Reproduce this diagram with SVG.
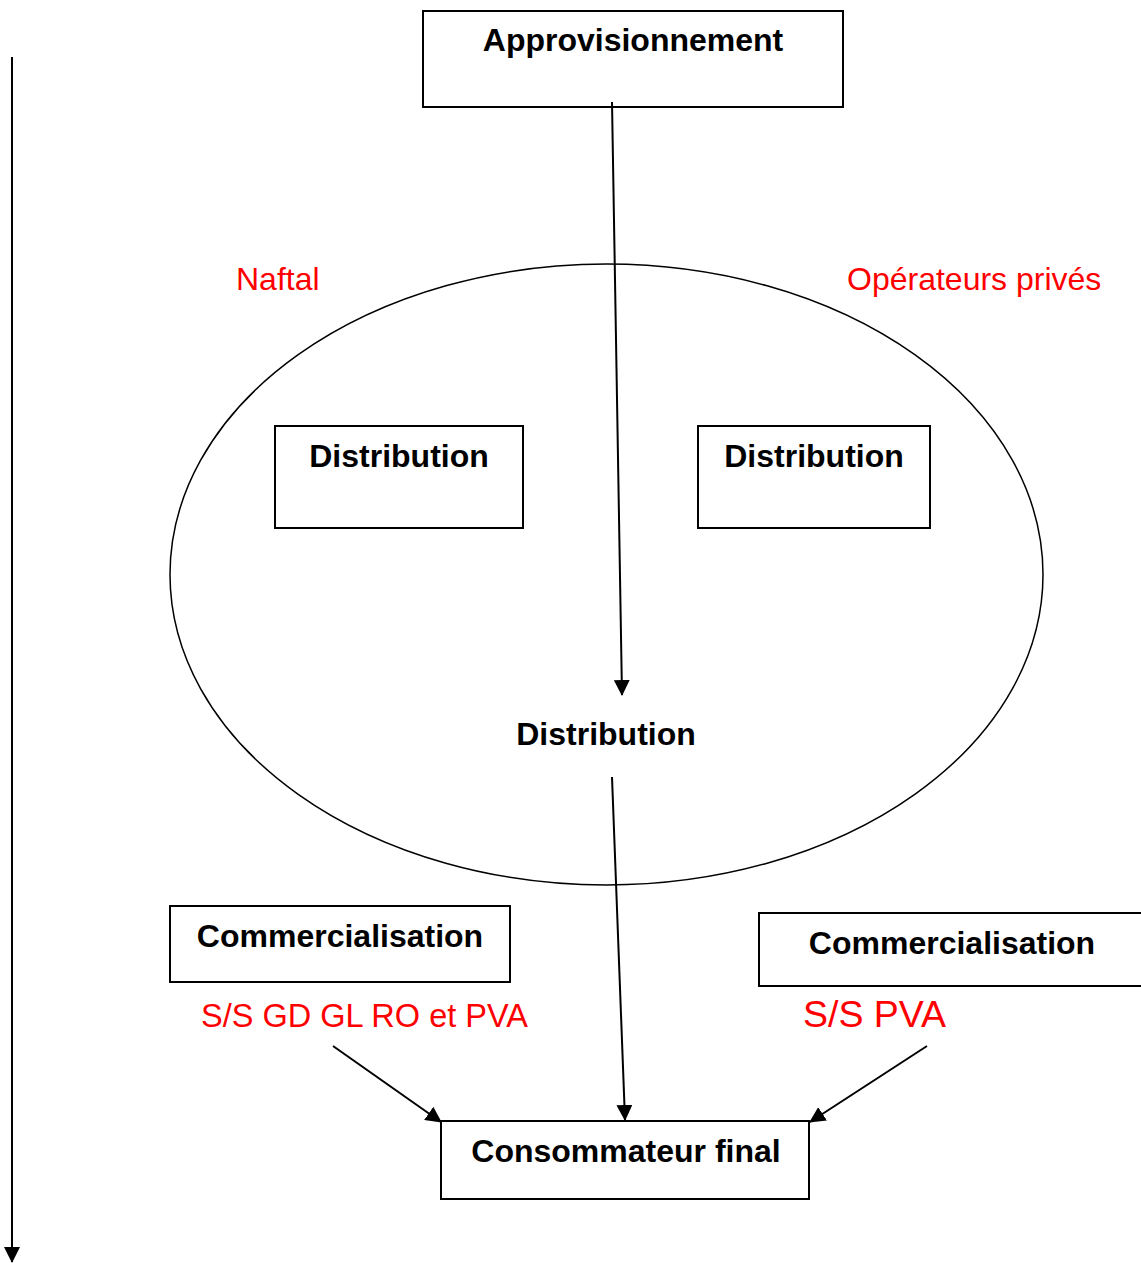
<svg xmlns="http://www.w3.org/2000/svg" width="1141" height="1263" viewBox="0 0 1141 1263">
<defs>
<style>
.box{fill:#fff;stroke:#000;stroke-width:2}
.b{font-family:"Liberation Sans",Arial,sans-serif;font-weight:bold;font-size:32px;fill:#000}
.r{font-family:"Liberation Sans",Arial,sans-serif;font-size:32px;fill:#f00}
.ln{stroke:#000;stroke-width:2;fill:none}
</style>
<marker id="ah" markerWidth="16" markerHeight="16" viewBox="0 0 16 16" refX="15" refY="8" orient="auto" markerUnits="userSpaceOnUse">
<path d="M0,0 L16,8 L0,16 z" fill="#000"/>
</marker>
</defs>
<rect width="1141" height="1263" fill="#fff"/>
<g id="ellipse"><ellipse cx="606.5" cy="574.5" rx="436.5" ry="310.5" fill="none" stroke="#000" stroke-width="1.5"/></g>
<g id="approvisionnement"><rect class="box" x="423" y="11" width="420" height="96"/><text class="b" x="633" y="51" text-anchor="middle">Approvisionnement</text></g>
<g id="naftal"><text class="r" x="236" y="290">Naftal</text></g>
<g id="operateurs"><text class="r" x="847" y="290">Opérateurs privés</text></g>
<g id="dist-left"><rect class="box" x="275" y="426" width="248" height="102"/><text class="b" x="399" y="467" text-anchor="middle">Distribution</text></g>
<g id="dist-right"><rect class="box" x="698" y="426" width="232" height="102"/><text class="b" x="814" y="467" text-anchor="middle">Distribution</text></g>
<g id="dist-center"><text class="b" x="606" y="745" text-anchor="middle">Distribution</text></g>
<g id="comm-left"><rect class="box" x="170" y="906" width="340" height="76"/><text class="b" x="340" y="947" text-anchor="middle">Commercialisation</text></g>
<g id="comm-right"><rect class="box" x="759" y="913" width="400" height="73"/><text class="b" x="952" y="954" text-anchor="middle">Commercialisation</text></g>
<g id="ss-left"><text class="r" x="201" y="1027" style="font-size:32.5px">S/S GD GL RO et PVA</text></g>
<g id="ss-right"><text class="r" x="803" y="1027" style="font-size:37.5px">S/S PVA</text></g>
<g id="consommateur"><rect class="box" x="441" y="1121" width="368" height="78"/><text class="b" x="626" y="1162" text-anchor="middle">Consommateur final</text></g>
<g id="connectors">
<line class="ln" x1="12" y1="57" x2="12" y2="1262" marker-end="url(#ah)"/>
<line class="ln" x1="612" y1="102" x2="622" y2="695" marker-end="url(#ah)"/>
<line class="ln" x1="612" y1="777" x2="625" y2="1120" marker-end="url(#ah)"/>
<line class="ln" x1="333" y1="1046" x2="441" y2="1122" marker-end="url(#ah)"/>
<line class="ln" x1="927" y1="1046" x2="810" y2="1122" marker-end="url(#ah)"/>
</g>
</svg>
